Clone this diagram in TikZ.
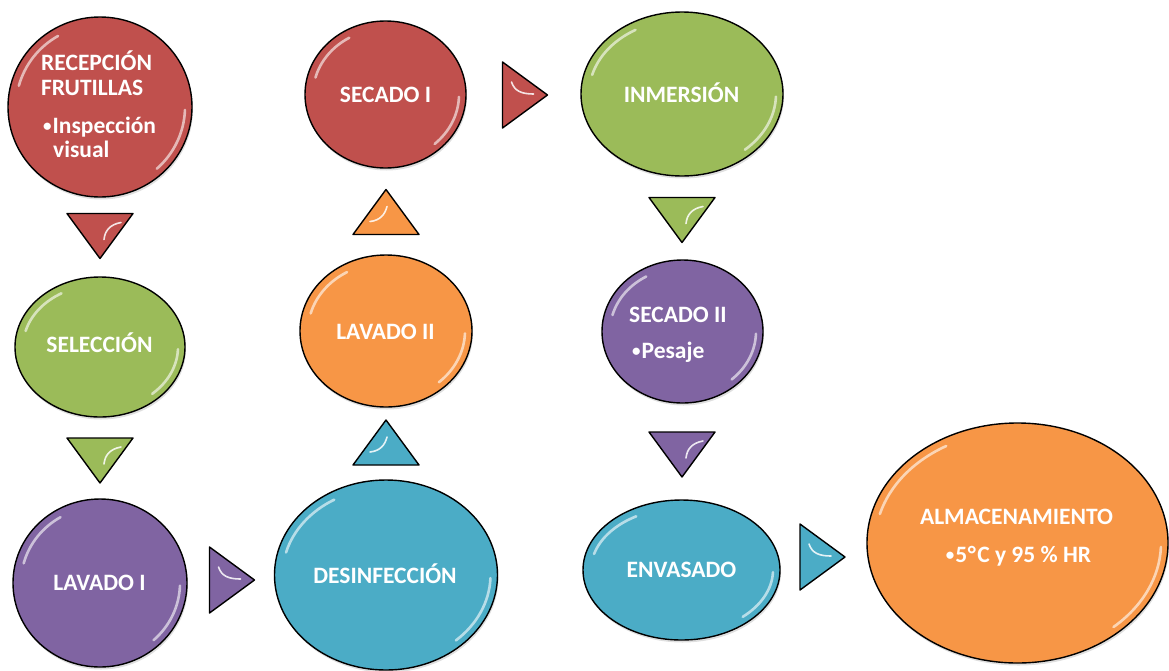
\documentclass[tikz,border=0pt]{standalone}
\usepackage{fontspec}
\setmainfont{Carlito}
\usetikzlibrary{shapes.geometric,shadows}
\definecolor{cred}{HTML}{C0504D}
\definecolor{cgreen}{HTML}{9BBB59}
\definecolor{cpurple}{HTML}{8064A2}
\definecolor{cteal}{HTML}{4BACC6}
\definecolor{corange}{HTML}{F79646}
\tikzset{
  stage/.style={ellipse, draw=black, line width=1.4pt, inner sep=0pt,
    drop shadow={opacity=0.25, shadow xshift=1pt, shadow yshift=-2.5pt}},
  lbl/.style={text=white, font=\fontsize{23.5}{28}\selectfont\bfseries, inner sep=0pt},
  glossline/.style={white, line width=2.6pt, opacity=0.6, line cap=round},
  glint/.style={white, line width=1.6pt, opacity=0.85, line cap=round},
  tri/.style={draw=black, line width=1.4pt, line join=round}
}
\newcommand\bul{\raisebox{1.5pt}{\fontsize{17}{17}\selectfont •}\kern1pt}
\newcommand\gloss[3]{%
  \begin{scope}[shift={(#1.center)}, x=1pt, y=1pt]
    \draw[glossline] (165:{#2-8} and {#3-8}) arc[start angle=165, end angle=120, x radius={#2-8}, y radius={#3-8}];
    \draw[glossline] (-2:{#2-7} and {#3-7}) arc[start angle=-2, end angle=-48, x radius={#2-7}, y radius={#3-7}];
  \end{scope}}
\newcommand\tridown[3]{%
  \begin{scope}[shift={(#1,#2)}]
    \draw[tri, fill=#3] (-33,-22) -- (33,-22) -- (0,23) -- cycle;
    \draw[glint] (21,-13) .. controls (10,-11) and (5,-5) .. (4,4);
  \end{scope}}
\newcommand\triup[3]{%
  \begin{scope}[shift={(#1,#2)}]
    \draw[tri, fill=#3] (-33,22) -- (33,22) -- (0,-23) -- cycle;
    \draw[glint] (1,-6) .. controls (-1,2) and (-6,8) .. (-16,9);
  \end{scope}}
\newcommand\triright[3]{%
  \begin{scope}[shift={(#1,#2)}]
    \draw[tri, fill=#3] (-22,-33) -- (-22,33) -- (23,0) -- cycle;
    \draw[glint] (-13,-13) .. controls (-10,-4) and (-3,-1) .. (9,-1);
  \end{scope}}
\begin{document}
\begin{tikzpicture}[x=1pt, y=-1pt]
\useasboundingbox (0,0) rectangle (1169,670);

% stages
\node[stage, fill=cred,    minimum width=184pt, minimum height=180pt] (rec)  at (100,107) {};
\node[stage, fill=cgreen,  minimum width=170pt, minimum height=140pt] (sel)  at (100,347) {};
\node[stage, fill=cpurple, minimum width=174pt, minimum height=168pt] (lav1) at (100,583) {};
\node[stage, fill=cteal,   minimum width=223pt, minimum height=190pt] (des)  at (386,575) {};
\node[stage, fill=corange, minimum width=172pt, minimum height=152pt] (lav2) at (386,331) {};
\node[stage, fill=cred,    minimum width=161pt, minimum height=147pt] (sec1) at (385.5,94.5) {};
\node[stage, fill=cgreen,  minimum width=202pt, minimum height=164pt] (inm)  at (682,94) {};
\node[stage, fill=cpurple, minimum width=161pt, minimum height=143pt] (sec2) at (682.5,331.5) {};
\node[stage, fill=cteal,   minimum width=197pt, minimum height=140pt] (env)  at (681.5,570) {};
\node[stage, fill=corange, minimum width=301pt, minimum height=240pt] (alm)  at (1017.5,543) {};

\gloss{rec}{92}{90}
\gloss{sel}{85}{70}
\gloss{lav1}{87}{84}
\gloss{des}{111.5}{95}
\gloss{lav2}{86}{76}
\gloss{sec1}{80.5}{73.5}
\gloss{inm}{101}{82}
\gloss{sec2}{80.5}{71.5}
\gloss{env}{98.5}{70}
\gloss{alm}{150.5}{120}

% labels
\node[lbl, anchor=base west] (t1a) at (41,70) {RECEPCIÓN};
\node[lbl, anchor=base west] (t1b) at (41,95) {FRUTILLAS};
\node[lbl, anchor=base west] (t1c) at (43,133) {\bul Inspección};
\node[lbl, anchor=base west] (t1d) at (53,157) {visual};
\node[lbl, anchor=base] (t2) at (99.5,352) {SELECCIÓN};
\node[lbl, anchor=base] (t3) at (99.5,590) {LAVADO I};
\node[lbl, anchor=base] (t4) at (385,583) {DESINFECCIÓN};
\node[lbl, anchor=base] (t5) at (385.5,339) {LAVADO II};
\node[lbl, anchor=base] (t6) at (385.5,102) {SECADO I};
\node[lbl, anchor=base] (t7) at (681.5,102) {INMERSIÓN};
\node[lbl, anchor=base west] (t8a) at (629,322) {SECADO II};
\node[lbl, anchor=base west] (t8b) at (632,358) {\bul Pesaje};
\node[lbl, anchor=base] (t9) at (681.5,577) {ENVASADO};
\node[lbl, anchor=base] (t10a) at (1016.5,524) {ALMACENAMIENTO};
\node[lbl, anchor=base] (t10b) at (1018.5,562) {\bul 5\kern0.5pt°\kern1.5pt C y 95 \% HR};

% arrows (triangles)
\tridown{100}{235.5}{cred}
\tridown{100}{460}{cgreen}
\triright{231.5}{580}{cpurple}
\triup{386}{443}{cteal}
\triup{386}{212.5}{corange}
\triright{524.5}{95}{cred}
\tridown{682}{219.5}{cgreen}
\tridown{682}{454}{cpurple}
\triright{822}{557}{cteal}
\end{tikzpicture}
\end{document}
